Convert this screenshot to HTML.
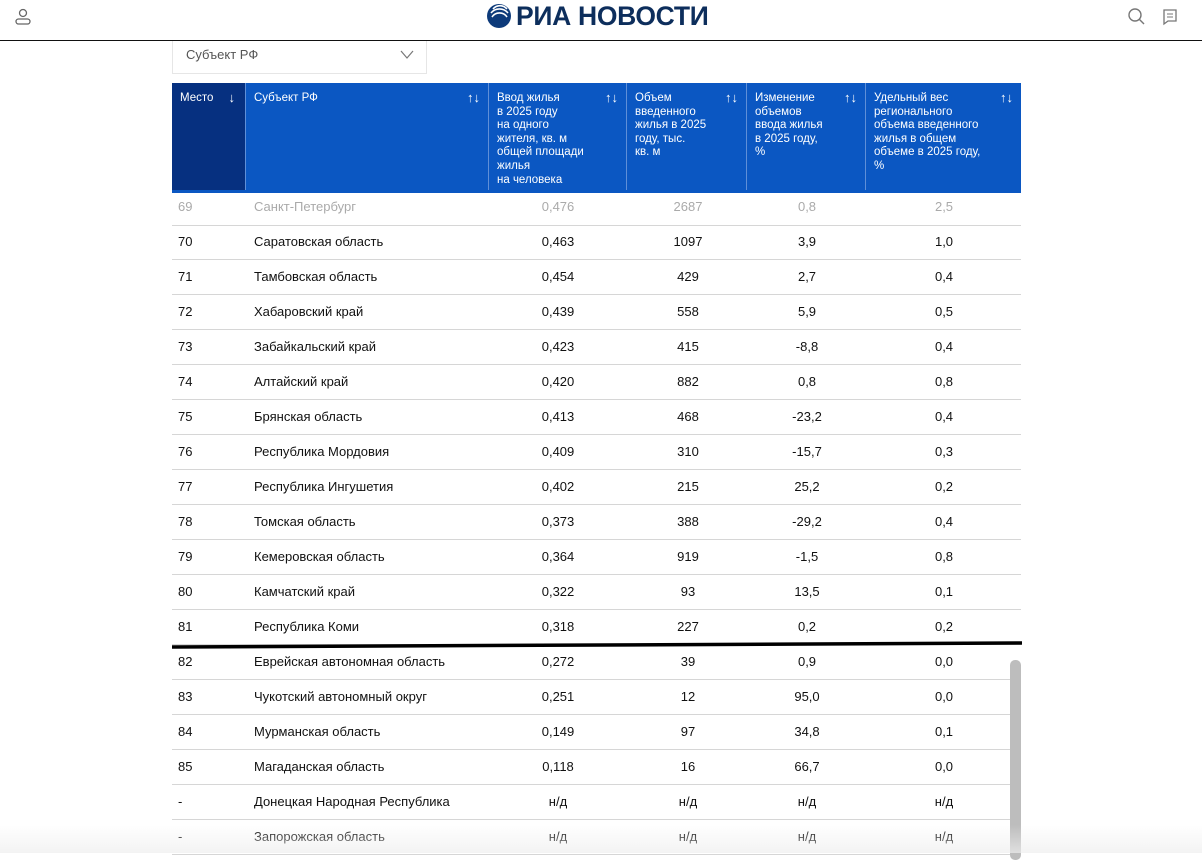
<!DOCTYPE html>
<html><head><meta charset="utf-8"><style>
*{margin:0;padding:0;box-sizing:border-box}
body{width:1202px;height:853px;overflow:hidden;background:#fff;font-family:"Liberation Sans",sans-serif;position:relative;color:#111}
.a{position:absolute}
.hd{position:absolute;top:83px;height:110px;background:#0b57c2;color:#fff;font-size:11.5px;line-height:13.6px;padding:9px 8px 0 8px;border-right:1px solid #5f8fd8}
.ar{position:absolute;right:8px;top:8px;font-size:13px}
.row{position:absolute;left:172px;width:849px;height:35px;border-bottom:1px solid #d6d6d6;font-size:13px}
.row span{position:absolute;top:9px;white-space:nowrap}
.c{transform:translateX(-50%)}
</style></head><body>
<svg class="a" style="left:13px;top:8px" width="20" height="18"><circle cx="10" cy="5" r="3.5" fill="none" stroke="#666" stroke-width="1.3"/><rect x="3" y="11" width="14" height="5" rx="2.5" fill="none" stroke="#666" stroke-width="1.3"/></svg>
<svg class="a" style="left:485px;top:3px" width="28" height="26"><circle cx="14" cy="13" r="12" fill="#0d3a7a"/><path d="M8 6a9 9 0 0 1 14 0M6 10a11 11 0 0 1 17 0M7 14a9 9 0 0 1 15 0" stroke="#fff" stroke-width="1.6" fill="none"/></svg>
<div class="a" style="left:516px;top:1px;font-size:26.5px;font-weight:bold;color:#0d2e5c;letter-spacing:-0.3px">РИА НОВОСТИ</div>
<svg class="a" style="left:1127px;top:7px" width="20" height="20"><circle cx="8" cy="8" r="6" fill="none" stroke="#777" stroke-width="1.4"/><line x1="12.5" y1="12.5" x2="17" y2="17" stroke="#777" stroke-width="1.4"/></svg>
<svg class="a" style="left:1162px;top:8px" width="18" height="18"><path d="M2 2h12v11H6l-4 3z" fill="none" stroke="#777" stroke-width="1.3"/><line x1="5" y1="6" x2="11" y2="6" stroke="#777"/><line x1="5" y1="9" x2="11" y2="9" stroke="#777"/></svg>
<div class="a" style="left:0;top:40px;width:1202px;height:1px;background:#111"></div>
<div class="a" style="left:172px;top:41px;width:255px;height:33px;border:1px solid #e6e6e6;border-top:none;font-size:13px;color:#555;padding:6px 13px">Субъект РФ</div>
<svg class="a" style="left:400px;top:50px" width="14" height="10"><path d="M1 1l6 7 6-7" fill="none" stroke="#777" stroke-width="1.2"/></svg>
<div class="hd" style="left:172px;width:74px;background:#063080">Место<span class="ar" style="right:10px">↓</span></div>
<div class="hd" style="left:246px;width:243px">Субъект РФ<span class="ar">↑↓</span></div>
<div class="hd" style="left:489px;width:138px">Ввод жилья<br>в 2025 году<br>на одного<br>жителя, кв. м<br>общей площади<br>жилья<br>на человека<span class="ar">↑↓</span></div>
<div class="hd" style="left:627px;width:120px">Объем<br>введенного<br>жилья в 2025<br>году, тыс.<br>кв. м<span class="ar">↑↓</span></div>
<div class="hd" style="left:747px;width:119px">Изменение<br>объемов<br>ввода жилья<br>в 2025 году,<br>%<span class="ar">↑↓</span></div>
<div class="hd" style="left:866px;width:155px;border-right:none">Удельный вес<br>регионального<br>объема введенного<br>жилья в общем<br>объеме в 2025 году,<br>%<span class="ar">↑↓</span></div>
<div id="rows"></div>
<div class="row" style="top:190px;height:36px;color:#aaa"><span style="left:6px;top:9px">69</span><span style="left:82px;top:9px">Санкт-Петербург</span><span class="c" style="left:386px;top:9px">0,476</span><span class="c" style="left:516px;top:9px">2687</span><span class="c" style="left:635px;top:9px">0,8</span><span class="c" style="left:772px;top:9px">2,5</span></div>
<div class="a" style="left:172px;top:190px;width:849px;height:3px;background:#0b57c2"></div>
<script>
var d=[["70","Саратовская область","0,463","1097","3,9","1,0"],["71","Тамбовская область","0,454","429","2,7","0,4"],["72","Хабаровский край","0,439","558","5,9","0,5"],["73","Забайкальский край","0,423","415","-8,8","0,4"],["74","Алтайский край","0,420","882","0,8","0,8"],["75","Брянская область","0,413","468","-23,2","0,4"],["76","Республика Мордовия","0,409","310","-15,7","0,3"],["77","Республика Ингушетия","0,402","215","25,2","0,2"],["78","Томская область","0,373","388","-29,2","0,4"],["79","Кемеровская область","0,364","919","-1,5","0,8"],["80","Камчатский край","0,322","93","13,5","0,1"],["81","Республика Коми","0,318","227","0,2","0,2"],["82","Еврейская автономная область","0,272","39","0,9","0,0"],["83","Чукотский автономный округ","0,251","12","95,0","0,0"],["84","Мурманская область","0,149","97","34,8","0,1"],["85","Магаданская область","0,118","16","66,7","0,0"],["-","Донецкая Народная Республика","н/д","н/д","н/д","н/д"],["-","Запорожская область","н/д","н/д","н/д","н/д"]];
var h="";d.forEach(function(r,i){var t=225+35*i;h+='<div class="row" style="top:'+t+'px"><span style="left:6px">'+r[0]+'</span><span style="left:82px">'+r[1]+'</span><span class="c" style="left:386px">'+r[2]+'</span><span class="c" style="left:516px">'+r[3]+'</span><span class="c" style="left:635px">'+r[4]+'</span><span class="c" style="left:772px">'+r[5]+'</span></div>';});
document.getElementById("rows").innerHTML=h;
</script>
<svg class="a" style="left:170px;top:640px" width="854" height="10"><path d="M2 7 L852 3" stroke="#000" stroke-width="3.5"/></svg>
<div class="a" style="left:1010px;top:660px;width:11px;height:200px;background:#bdbdbd;border-radius:5px"></div>
<div class="a" style="left:0;top:825px;width:1202px;height:28px;background:linear-gradient(rgba(245,245,245,0),rgba(238,238,238,0.7))"></div>
</body></html>
